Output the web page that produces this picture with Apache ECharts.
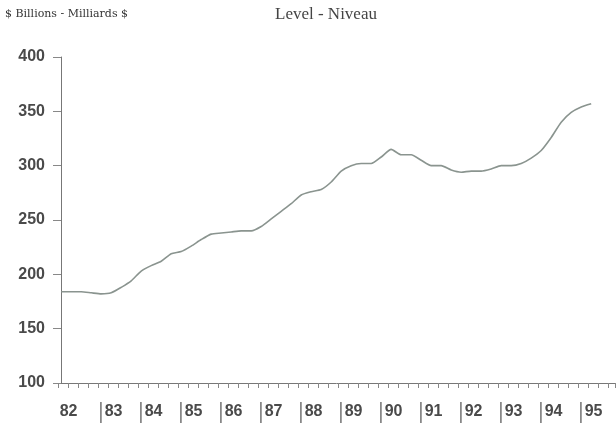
<!DOCTYPE html>
<html>
<head>
<meta charset="utf-8">
<script src="https://cdn.jsdelivr.net/npm/echarts@6/dist/echarts.min.js"></script>
<style>
  html, body { margin: 0; padding: 0; background: #fff; }
  #main { width: 616px; height: 424px; }
</style>
</head>
<body>
<div id="main"></div>
<script>
// quarterly level, $ billions, first quarter of 1982 onwards
var firstQuarter = 82.08;
var levels = [
    184, 184, 184, 183, 182, 183, 188, 194,
    203, 208, 212, 219, 221, 226, 232, 237,
    238, 239, 240, 240, 244, 251, 258, 265,
    273, 276, 278, 285, 295, 300, 302, 302,
    308, 315, 310, 310, 305, 300, 300, 296,
    294, 295, 295, 297, 300, 300, 302, 307,
    314, 326, 340, 349, 354, 357
];
var yTicks = [100, 150, 200, 250, 300, 350, 400];
var yearLabels = ['82', '83', '84', '85', '86', '87', '88', '89', '90', '91', '92', '93', '94', '95'];

var points = [];
for (var i = 0; i < levels.length; i++) {
    points.push([firstQuarter + i * 0.25, levels[i]]);
}

var chart = echarts.init(document.getElementById('main'));

chart.setOption({
    animation: false,
    backgroundColor: '#fff',
    title: [{
        text: '$ Billions - Milliards $',
        left: 5,
        top: 9,
        padding: 0,
        textStyle: { fontFamily: 'DejaVu Serif', fontSize: 11, fontWeight: 'normal', color: '#333' }
    }, {
        text: 'Level - Niveau',
        left: 275,
        top: 6,
        padding: 0,
        textStyle: { fontFamily: 'Liberation Serif', fontSize: 17, fontWeight: 'normal', color: '#444' }
    }],
    grid: { left: 58, right: 1, top: 57, bottom: 41 },
    xAxis: {
        type: 'value',
        min: 82,
        max: 95.925,
        interval: 1,
        splitLine: { show: false },
        axisLine: { lineStyle: { color: '#777', width: 1 } },
        axisTick: { show: true, length: 5, lineStyle: { color: '#888' } },
        minorTick: { show: true, splitNumber: 4, length: 5, lineStyle: { color: '#888' } },
        axisLabel: {
            margin: 17,
            align: 'left',
            showMaxLabel: false,
            formatter: function (v) {
                var idx = Math.round(v) - 82;
                var lab = yearLabels[idx];
                if (lab === undefined) return '';
                return idx === 0 ? '{h| }{n|' + lab + '}' : '{b||}{n|' + lab + '}';
            },
            rich: {
                b: { fontFamily: 'Liberation Sans', fontSize: 22, lineHeight: 24, verticalAlign: 'middle', color: '#888', padding: [0, 1, 0, 0] },
                h: { fontFamily: 'Liberation Sans', fontSize: 6, lineHeight: 24, verticalAlign: 'middle', color: 'rgba(0,0,0,0)' },
                n: { fontFamily: 'Liberation Sans', fontSize: 16, lineHeight: 24, verticalAlign: 'middle', fontWeight: 'bold', color: '#4a4a4a' }
            }
        }
    },
    yAxis: {
        type: 'value',
        min: 100,
        max: 400,
        interval: 50,
        offset: -3,
        splitLine: { show: false },
        axisLine: { show: true, lineStyle: { color: '#777', width: 1 } },
        axisTick: { show: true, length: 8, lineStyle: { color: '#888' } },
        axisLabel: {
            margin: 16,
            fontFamily: 'Liberation Sans',
            fontSize: 16,
            fontWeight: 'bold',
            color: '#4a4a4a',
            formatter: function (v) {
                return yTicks.indexOf(v) >= 0 ? String(v) : '';
            }
        }
    },
    series: [{
        type: 'line',
        data: points,
        showSymbol: false,
        smooth: 0.2,
        lineStyle: { color: '#8a948f', width: 1.6 }
    }]
});
</script>
</body>
</html>
